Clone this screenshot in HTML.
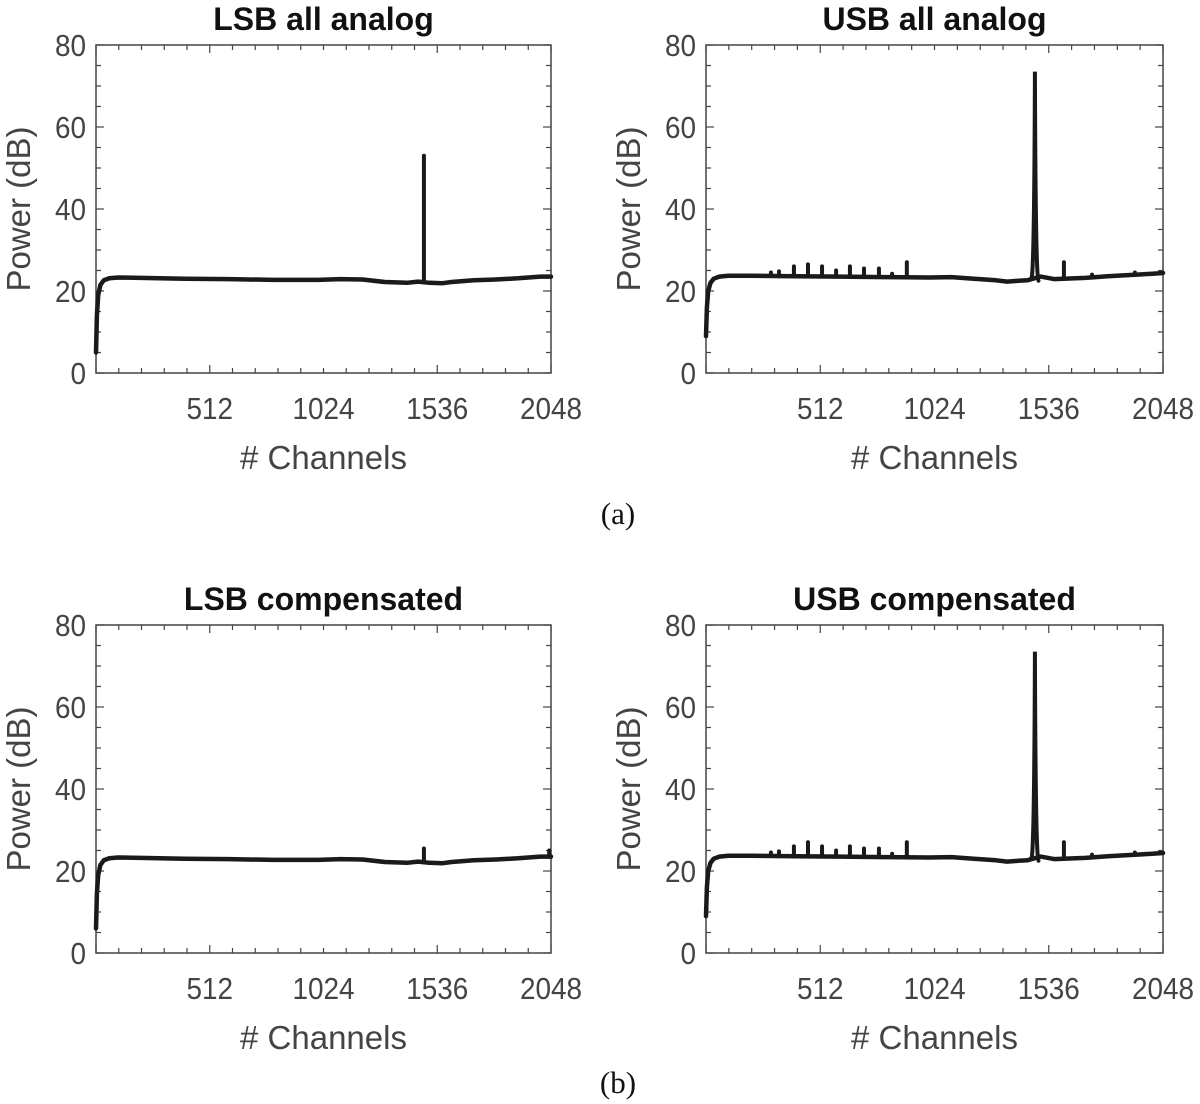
<!DOCTYPE html>
<html><head><meta charset="utf-8"><style>
html,body{margin:0;padding:0;background:#fff;}
svg{display:block;font-family:"Liberation Sans",sans-serif;}
</style></head><body>
<svg id="fig" width="1200" height="1104" viewBox="0 0 1200 1104" xmlns="http://www.w3.org/2000/svg">
<text x="618" y="524" font-family="Liberation Serif,serif" font-size="31" text-anchor="middle" fill="#111">(a)</text>
<text x="618" y="1093" font-family="Liberation Serif,serif" font-size="31" text-anchor="middle" fill="#111">(b)</text>
</svg>
<script>
// shared axis config
const xTicks = [512, 1024, 1536, 2048];
const yTicks = [0, 20, 40, 60, 80];
const xMax = 2048, yMax = 80;

// LSB baseline (channel, dB)
const lsbChan = [0, 4, 10, 20, 35, 60, 100, 200, 400, 600, 800, 1000, 1100, 1200, 1300, 1400, 1450, 1500, 1560, 1600, 1700, 1800, 1900, 2000, 2048];
const lsbAnaDb = [5, 14, 19, 21.5, 22.6, 23.1, 23.3, 23.2, 23.0, 22.9, 22.7, 22.7, 22.9, 22.8, 22.2, 22.0, 22.3, 22.0, 21.9, 22.2, 22.6, 22.8, 23.1, 23.5, 23.5];
const lsbCmpDb = [6, 14.5, 19, 21.5, 22.6, 23.1, 23.3, 23.2, 23.0, 22.9, 22.7, 22.7, 22.9, 22.8, 22.2, 22.0, 22.3, 22.0, 21.9, 22.2, 22.6, 22.8, 23.1, 23.5, 23.5];
const lsbAnaSpikeCh = [1476];
const lsbAnaSpikeDb = [53];
const lsbCmpSpikeCh = [1476, 2040];
const lsbCmpSpikeDb = [25.5, 25];

// USB baseline
const usbChan = [0, 4, 10, 20, 35, 60, 100, 200, 400, 600, 800, 1000, 1100, 1200, 1300, 1350, 1400, 1440, 1500, 1560, 1600, 1700, 1800, 1900, 2000, 2048];
const usbAnaDb = [9, 16, 20, 22, 23, 23.5, 23.7, 23.7, 23.6, 23.5, 23.4, 23.3, 23.4, 23.0, 22.6, 22.3, 22.5, 22.6, 23.5, 22.9, 23.0, 23.2, 23.6, 23.9, 24.2, 24.4];
const usbCmpDb = [9, 16, 20, 22, 23, 23.5, 23.7, 23.7, 23.6, 23.5, 23.4, 23.3, 23.4, 23.0, 22.6, 22.3, 22.5, 22.6, 23.5, 22.9, 23.0, 23.2, 23.6, 23.9, 24.2, 24.4];
const usbSpikeCh = [291, 327, 394, 457, 520, 583, 645, 708, 775, 834, 900, 1474, 1604, 1730, 1922];
const usbAnaSpikeDb = [24.5, 24.8, 26, 26.5, 26, 25, 26, 25.5, 25.5, 24.2, 27, 73.5, 27, 24, 24.5];
const usbCmpSpikeDb = [24.5, 24.8, 26, 27, 26, 25, 26, 25.5, 25.5, 24.2, 27, 73.5, 27, 24, 24.5];

const NS = "http://www.w3.org/2000/svg";
const svg = document.getElementById('fig');
function mk(tag, attrs, parent){const e=document.createElementNS(NS,tag);for(const k in attrs)e.setAttribute(k,attrs[k]);(parent||svg).appendChild(e);return e;}

function panel(id, title, L, T, R, B, chan, db, spCh, spDb, peaked){
  const g = mk('g', {});
  
  
  const xs = c => L + c / xMax * (R - L);
  const ys = v => B - v / yMax * (B - T);
  const box = mk('rect', {x:L, y:T, width:R-L, height:B-T, fill:'none', stroke:'#444', 'stroke-width':1.5}, g);
  
  
  for (let c = 0; c <= xMax + 1; c += 512/5) {
    const x = xs(c), len = (Math.abs(c % 512) < 1) ? 8 : 5;
    mk('line', {x1:x, x2:x, y1:B, y2:B-len, stroke:'#444', 'stroke-width':1.2}, g);
    mk('line', {x1:x, x2:x, y1:T, y2:T+len, stroke:'#444', 'stroke-width':1.2}, g);
  }
  for (let v = 0; v <= yMax; v += 5) {
    const y = ys(v), len = (v % 20 === 0) ? 8 : 5;
    mk('line', {x1:L, x2:L+len, y1:y, y2:y, stroke:'#444', 'stroke-width':1.2}, g);
    mk('line', {x1:R, x2:R-len, y1:y, y2:y, stroke:'#444', 'stroke-width':1.2}, g);
  }
  xTicks.forEach(t => {
    const tx = mk('text', {x:xs(t), y:B+46, 'font-size':31, 'text-anchor':'middle', fill:'#444', transform:`translate(${xs(t)},0) scale(0.9,1) translate(${-xs(t)},0)`}, g);
    tx.textContent = t;
    
    
  });
  yTicks.forEach(t => {
    const tx = mk('text', {x:L-10, y:ys(t)+11, 'font-size':31, 'text-anchor':'end', fill:'#444', transform:`translate(${L-10},0) scale(0.9,1) translate(${-(L-10)},0)`}, g);
    tx.textContent = t;
    
    
  });
  const xl = mk('text', {x:(L+R)/2, y:B+96, 'font-size':33, 'text-anchor':'middle', fill:'#444'}, g);
  xl.textContent = '# Channels';
  
  
  const yl = mk('text', {x:0, y:0, 'font-size':33, 'text-anchor':'middle', fill:'#444', transform:`translate(${L-66},${(T+B)/2}) rotate(-90)`}, g);
  yl.textContent = 'Power (dB)';
  
  
  const tt = mk('text', {x:(L+R)/2, y:T-15, 'font-size':32, 'font-weight':'bold', 'text-anchor':'middle', fill:'#111'}, g);
  tt.textContent = title;
  
  
  const pts = chan.map((c,i) => xs(c).toFixed(1) + ',' + ys(db[i]).toFixed(1)).join(' ');
  const pl = mk('polyline', {points:pts, fill:'none', stroke:'#1a1a1a', 'stroke-width':4.5, 'stroke-linejoin':'round', 'stroke-linecap':'round'}, g);
  
  
  function baseAt(c){for(let i=1;i<chan.length;i++){if(c<=chan[i]){const f=(c-chan[i-1])/(chan[i]-chan[i-1]);return db[i-1]+f*(db[i]-db[i-1]);}}return db[db.length-1];}
  spCh.forEach((c,i) => {
    const big = peaked && spDb[i] > 40;
    const sp = mk('path', {d: big ? `M${xs(c-16)},${ys(baseAt(c))} Q${xs(c-3)},${ys(baseAt(c))} ${xs(c)},${ys(spDb[i])} Q${xs(c+3)},${ys(baseAt(c))} ${xs(c+16)},${ys(baseAt(c)-0.6)}` : `M${xs(c)},${ys(baseAt(c))} L${xs(c)},${ys(spDb[i])}`, fill:'none', stroke:'#1a1a1a', 'stroke-width':4, 'stroke-linecap':'round'}, g);
    
    
  });
}
panel('lsb-all-analog-panel', 'LSB all analog', 96, 45, 551, 373, lsbChan, lsbAnaDb, lsbAnaSpikeCh, lsbAnaSpikeDb, false);
panel('usb-all-analog-panel', 'USB  all analog', 706, 45, 1163, 373, usbChan, usbAnaDb, usbSpikeCh, usbAnaSpikeDb, true);
panel('lsb-compensated-panel', 'LSB compensated', 96, 625, 551, 953, lsbChan, lsbCmpDb, lsbCmpSpikeCh, lsbCmpSpikeDb, false);
panel('usb-compensated-panel', 'USB compensated', 706, 625, 1163, 953, usbChan, usbCmpDb, usbSpikeCh, usbCmpSpikeDb, true);
</script>
</body></html>
